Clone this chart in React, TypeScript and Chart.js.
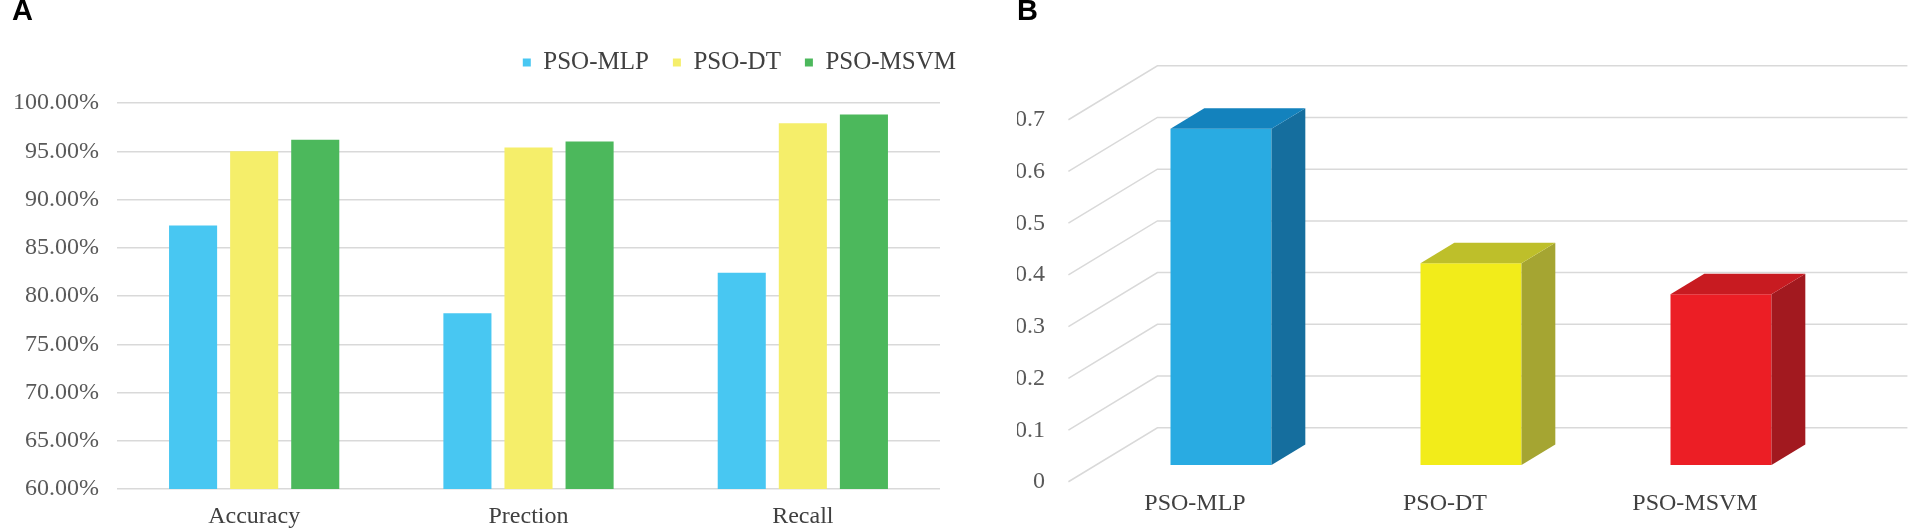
import { useEffect, useRef } from "react";
import { Chart, registerables } from "chart.js";

Chart.register(...registerables);

// Panel A: metrics per model (%)
const metricLabels = ["Accuracy", "Prection", "Recall"];
const mlpScores = [87.3, 78.2, 82.4];
const dtScores = [95.0, 95.4, 97.9];
const msvmScores = [96.2, 96.0, 98.8];
const percentTicks = [60, 65, 70, 75, 80, 85, 90, 95, 100];

// Panel B: one value per model
const modelLabels = ["PSO-MLP", "PSO-DT", "PSO-MSVM"];
const modelValues = [0.65, 0.39, 0.33];
const valueTicks = [0, 0.1, 0.2, 0.3, 0.4, 0.5, 0.6, 0.7];

const SERIF = "'Liberation Serif', 'Times New Roman', serif";
const SANS = "'Liberation Sans', Arial, sans-serif";
const TICK_COLOR = "#595959";
const GRID_COLOR = "#d9d9d9";

// 3d look for panel B: depth vector of the floor, bars sit in the middle of it
const DEPTH_X = 89;
const DEPTH_Y = -54;
const BAR_FRONT = 0.31;
const BAR_DEPTH = 0.38;
const frontColors = ["#29abe2", "#f2ec1a", "#ec1e25"];
const topColors = ["#1382bd", "#bebf2a", "#c81b21"];
const sideColors = ["#156e9e", "#a5a532", "#a2191f"];

// more room under the legend (chart.js only adds 10px itself)
const legendGap = {
  id: "legendGap",
  beforeInit(chart: any) {
    const legend = chart.legend;
    if (!legend || legend._gapPatched) return;
    const fit = legend.fit;
    legend.fit = function () {
      fit.call(this);
      this.height += 18;
    };
    legend._gapPatched = true;
  },
};

const depth3d = {
  id: "depth3d",
  beforeDatasetsDraw(chart: any) {
    const { ctx, chartArea, scales } = chart;
    const y = scales.y;
    const xFront = chartArea.left - DEPTH_X * BAR_FRONT;
    const xRight = chartArea.right + DEPTH_X * (1 - BAR_FRONT);
    ctx.save();
    ctx.strokeStyle = GRID_COLOR;
    ctx.lineWidth = 1.5;
    y.ticks.forEach((t: any) => {
      const yFront = y.getPixelForValue(t.value) - DEPTH_Y * BAR_FRONT;
      const yBack = yFront + DEPTH_Y;
      ctx.beginPath();
      ctx.moveTo(xFront, yFront);
      ctx.lineTo(xFront + DEPTH_X, yBack);
      ctx.lineTo(xRight, yBack);
      ctx.stroke();
    });
    ctx.restore();
  },
  afterDatasetsDraw(chart: any) {
    const { ctx } = chart;
    const meta = chart.getDatasetMeta(0);
    const dx = DEPTH_X * BAR_DEPTH;
    const dy = DEPTH_Y * BAR_DEPTH;
    ctx.save();
    meta.data.forEach((bar: any, i: number) => {
      const { x, y, base, width } = bar.getProps(["x", "y", "base", "width"], true);
      const l = x - width / 2;
      const r = x + width / 2;
      ctx.fillStyle = sideColors[i];
      ctx.beginPath();
      ctx.moveTo(r, y);
      ctx.lineTo(r + dx, y + dy);
      ctx.lineTo(r + dx, base + dy);
      ctx.lineTo(r, base);
      ctx.closePath();
      ctx.fill();
      ctx.fillStyle = topColors[i];
      ctx.beginPath();
      ctx.moveTo(l, y);
      ctx.lineTo(l + dx, y + dy);
      ctx.lineTo(r + dx, y + dy);
      ctx.lineTo(r, y);
      ctx.closePath();
      ctx.fill();
    });
    ctx.restore();
  },
};

const panelTitle = (text: string, bottom: number) => ({
  display: true,
  text,
  align: "start" as const,
  color: "#000",
  font: { family: SANS, size: 29, weight: "bold" as const, lineHeight: 1 },
  padding: { top: -3, bottom },
});

function metricsConfig(): any {
  return {
    type: "bar",
    data: {
      labels: metricLabels,
      datasets: [
        { label: "PSO-MLP", data: mlpScores, backgroundColor: "#48c7f2" },
        { label: "PSO-DT", data: dtScores, backgroundColor: "#f5ee6a" },
        { label: "PSO-MSVM", data: msvmScores, backgroundColor: "#4cb85c" },
      ],
    },
    options: {
      responsive: false,
      animation: false,
      categoryPercentage: 0.668,
      barPercentage: 0.787,
      layout: { padding: { left: 12, right: 0, top: 0, bottom: 0 } },
      plugins: {
        title: panelTitle("A", 0),
        legend: {
          position: "top",
          align: "end",
          labels: {
            boxWidth: 8,
            boxHeight: 8,
            padding: 24,
            color: "#404040",
            font: { family: SERIF, size: 25 },
          },
        },
        tooltip: { enabled: false },
      },
      scales: {
        x: {
          afterFit: (s: any) => {
            s.height = 42;
          },
          grid: { display: false, drawTicks: false },
          border: { display: false },
          ticks: { color: "#404040", padding: 13, font: { family: SERIF, size: 24 } },
        },
        y: {
          min: 60,
          max: 100,
          afterFit: (s: any) => {
            s.width = 105;
            s.paddingTop = 0;
            s.paddingBottom = 0;
          },
          afterBuildTicks: (s: any) => {
            s.ticks = percentTicks.map((v) => ({ value: v }));
          },
          grid: { color: GRID_COLOR, lineWidth: 1.5, drawTicks: false },
          border: { display: false },
          ticks: {
            color: TICK_COLOR,
            padding: 18,
            font: { family: SERIF, size: 24 },
            callback: (v: any) => Number(v).toFixed(2) + "%",
          },
        },
        yRight: {
          position: "right",
          afterFit: (s: any) => {
            s.width = 40;
          },
          grid: { display: false, drawTicks: false },
          border: { display: false },
          ticks: { display: false },
        },
      },
    },
    plugins: [legendGap],
  };
}

function modelsConfig(): any {
  return {
    type: "bar",
    data: {
      labels: modelLabels,
      datasets: [
        {
          label: "value",
          data: modelValues,
          backgroundColor: frontColors,
          categoryPercentage: 1,
          barPercentage: 0.404,
        },
      ],
    },
    options: {
      responsive: false,
      animation: false,
      layout: { padding: { left: 37, right: 75, top: 0, bottom: 0 } },
      plugins: {
        title: panelTitle("B", 77),
        legend: { display: false },
        tooltip: { enabled: false },
      },
      scales: {
        x: {
          afterFit: (s: any) => {
            s.height = 66;
          },
          grid: { display: false, drawTicks: false },
          border: { display: false },
          ticks: {
            color: "#404040",
            padding: 24,
            labelOffset: -26,
            font: { family: SERIF, size: 24 },
          },
        },
        y: {
          min: 0,
          max: 0.7,
          afterFit: (s: any) => {
            s.width = 79;
            s.paddingTop = 0;
            s.paddingBottom = 0;
          },
          afterBuildTicks: (s: any) => {
            s.ticks = valueTicks.map((v) => ({ value: v }));
          },
          grid: { display: false, drawTicks: false },
          border: { display: false },
          ticks: {
            color: TICK_COLOR,
            padding: 51,
            labelOffset: 17,
            font: { family: SERIF, size: 24 },
            callback: (v: any) => String(Number(Number(v).toFixed(1))),
          },
        },
      },
    },
    plugins: [depth3d],
  };
}

function ChartPanel({ left, width, makeConfig }: { left: number; width: number; makeConfig: () => any }) {
  const canvasRef = useRef<HTMLCanvasElement | null>(null);

  useEffect(() => {
    if (!canvasRef.current) return;
    const chart = new Chart(canvasRef.current, makeConfig());
    return () => {
      chart.destroy();
    };
  }, [makeConfig]);

  return (
    <div style={{ position: "absolute", left, top: 0, width, height: 531 }}>
      <canvas ref={canvasRef} width={width} height={531} style={{ width, height: 531, display: "block" }} />
    </div>
  );
}

export default function App() {
  return (
    <div style={{ position: "absolute", left: 0, top: 0, width: 1921, height: 531, background: "#fff", overflow: "hidden" }}>
      <ChartPanel left={0} width={980} makeConfig={metricsConfig} />
      <ChartPanel left={980} width={941} makeConfig={modelsConfig} />
    </div>
  );
}
